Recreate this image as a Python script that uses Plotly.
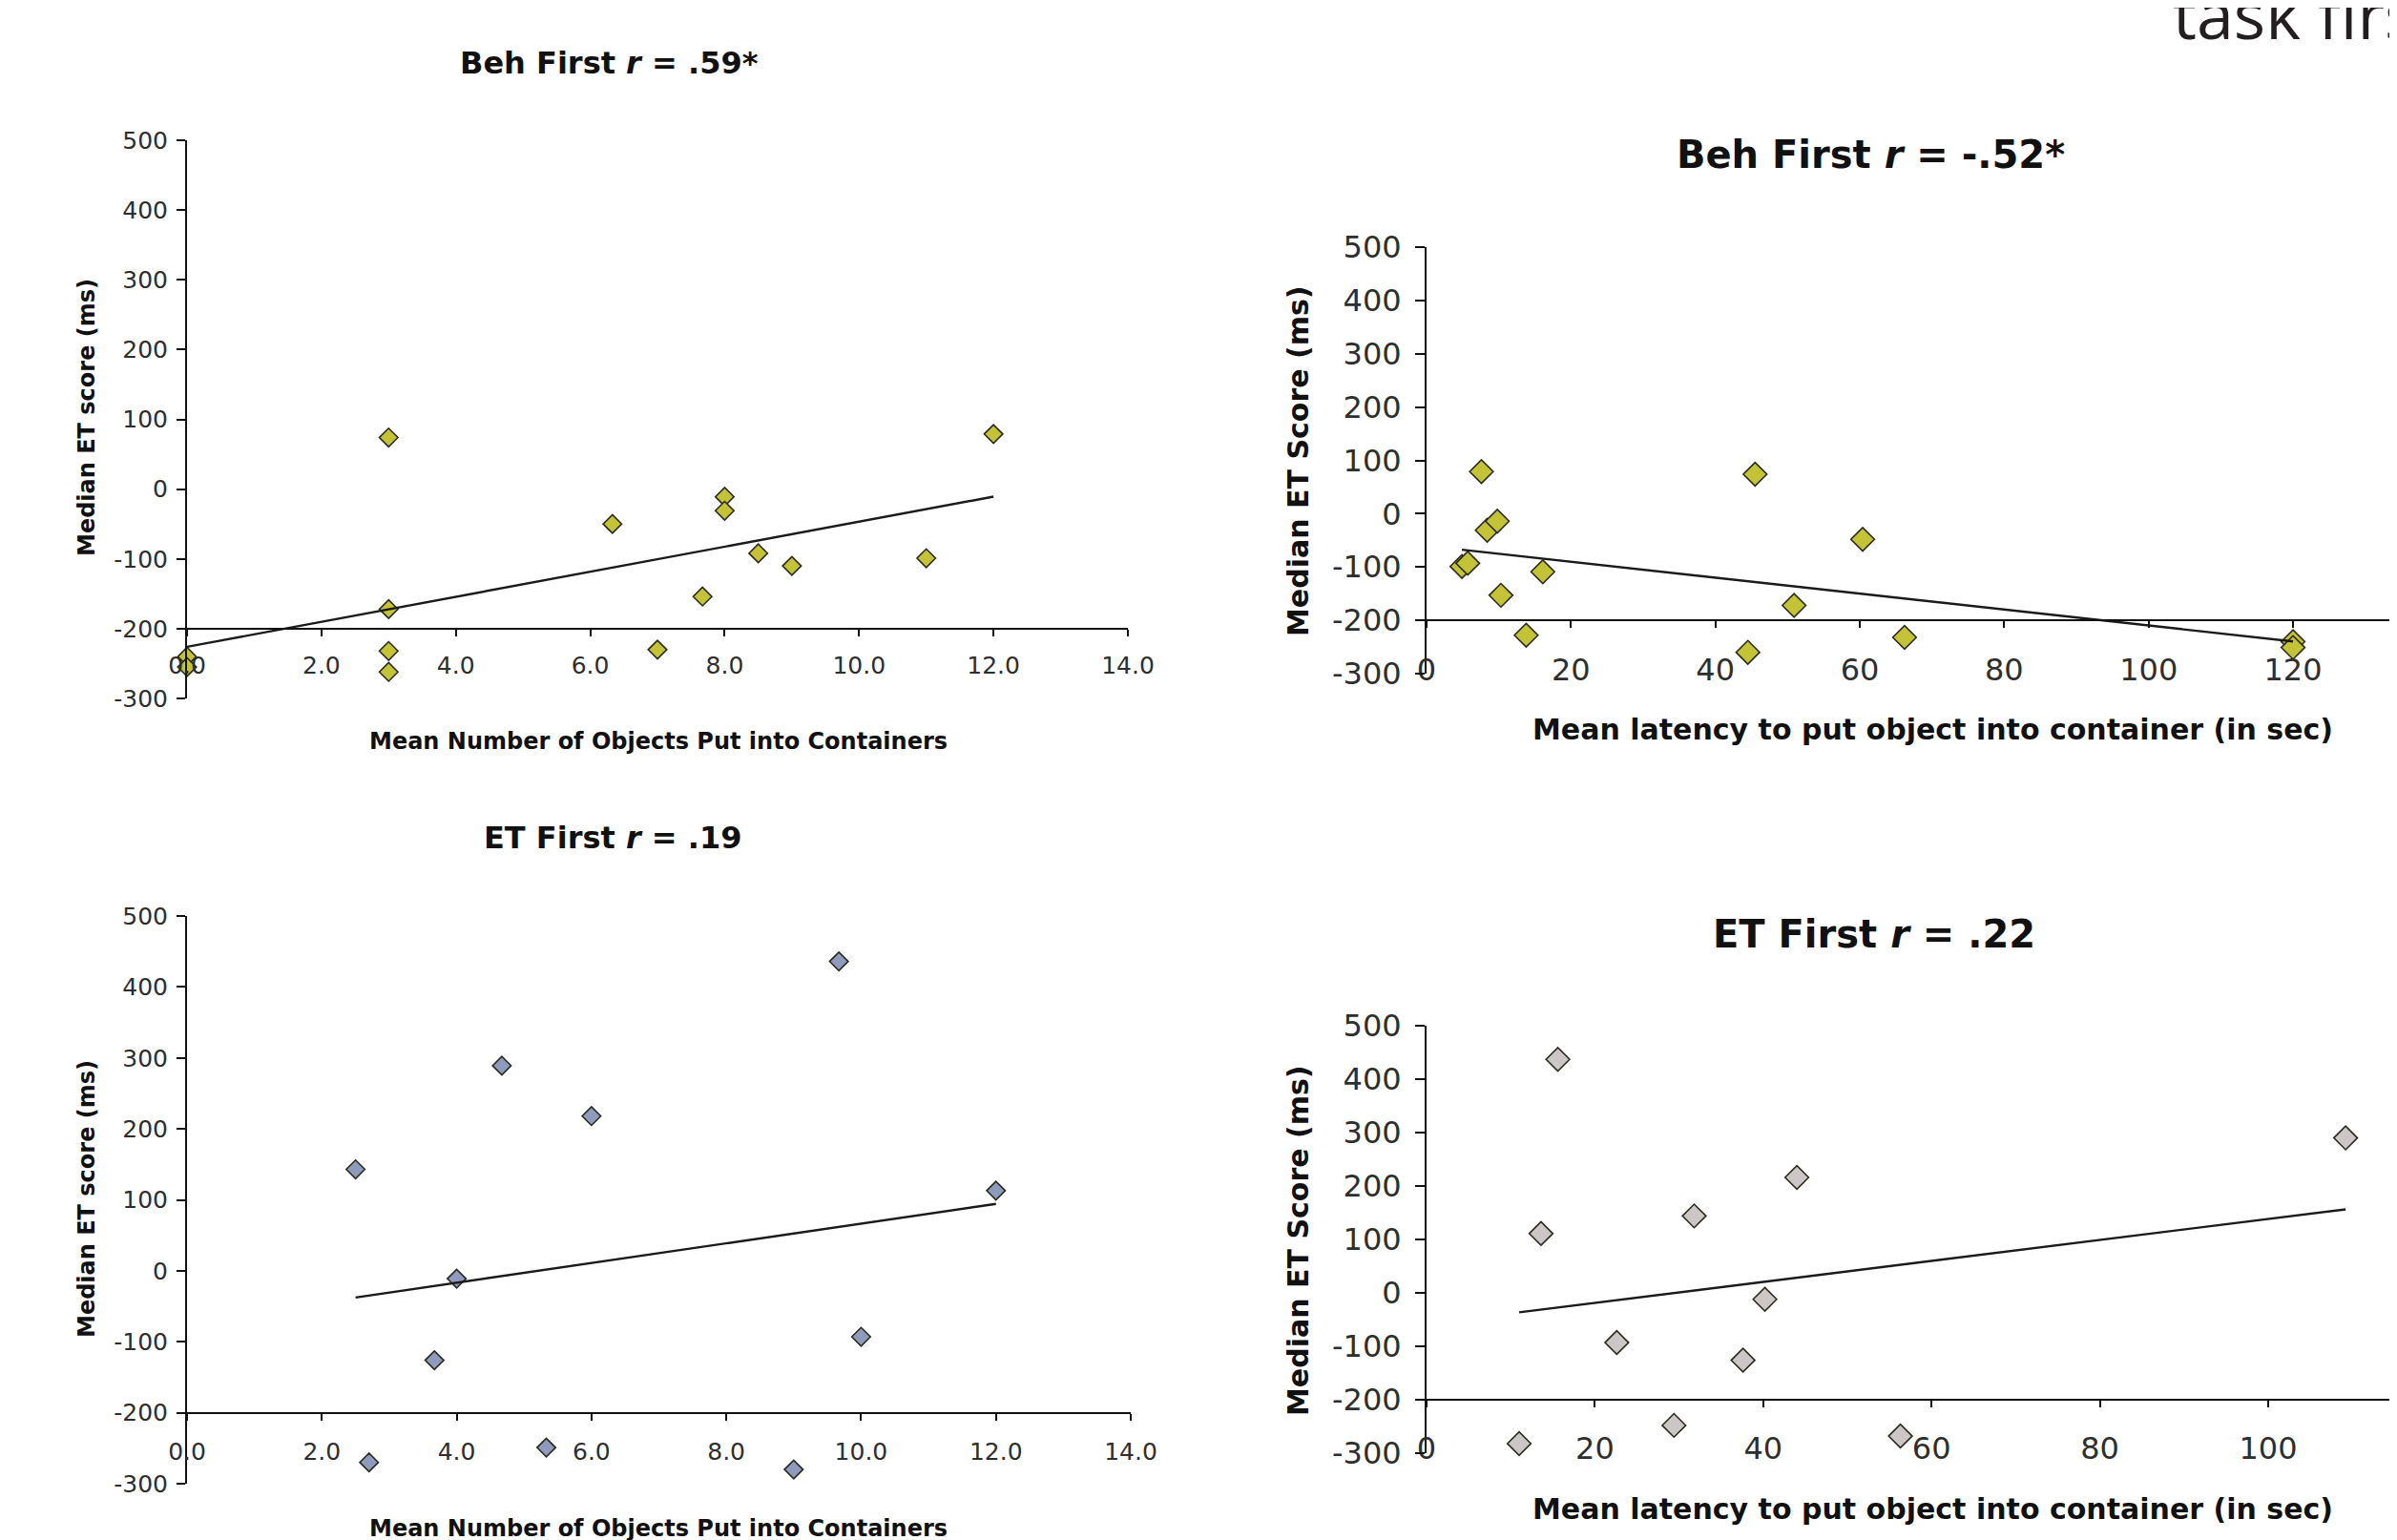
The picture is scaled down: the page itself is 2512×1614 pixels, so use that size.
import numpy as np
import plotly.graph_objects as go

# The page body adds an 8 px margin, so the figure is 8 px smaller than the window
# and all geometry below is given in window pixels and shifted by OFF.
OFF = 8
W, H = 2512 - OFF, 1614 - OFF

# ---------------- data ----------------
beh_objects_x = [0.0, 0.0, 3.0, 3.0, 3.0, 3.0, 6.33, 7.0, 7.67, 8.0, 8.0, 8.5, 9.0, 11.0, 12.0]
beh_objects_y = [-240, -255, 74, -172, -232, -262, -50, -230, -154, -11, -31, -92, -110, -99, 79]

beh_latency_x = [4.9, 5.7, 7.6, 8.4, 9.8, 10.3, 13.8, 16.1, 44.5, 45.5, 50.9, 60.4, 66.2, 120.0, 120.0]
beh_latency_y = [-99, -93, 79, -31, -14, -153, -228, -109, -260, 74, -172, -48, -232, -240, -251]

et_objects_x = [2.5, 2.7, 3.67, 4.0, 4.67, 5.33, 6.0, 9.0, 9.67, 10.0, 12.0]
et_objects_y = [143, -270, -126, -11, 289, -249, 218, -280, 436, -93, 113]

et_latency_x = [11.0, 13.6, 15.6, 22.6, 29.4, 31.8, 37.6, 40.2, 44.0, 56.3, 109.2]
et_latency_y = [-282, 111, 437, -93, -248, 144, -126, -12, 216, -268, 290]

y_ticks = [-300, -200, -100, 0, 100, 200, 300, 400, 500]
y_tick_text = ["-300", "-200", "-100", "0", "100", "200", "300", "400", "500"]
obj_ticks = [0, 2, 4, 6, 8, 10, 12, 14]
obj_tick_text = ["0.0", "2.0", "4.0", "6.0", "8.0", "10.0", "12.0", "14.0"]
lat_ticks = [0, 20, 40, 60, 80, 100, 120, 140]
lat_tick_text = ["0", "20", "40", "60", "80", "100", "120", "140"]

titles = ["Beh First <i>r</i> = .59*", "Beh First <i>r</i> = -.52*",
          "ET First <i>r</i> = .19", "ET First <i>r</i> = .22"]
x_titles = ["Mean Number of Objects Put into Containers",
            "Mean latency to put object into container (in sec)",
            "Mean Number of Objects Put into Containers",
            "Mean latency to put object into container (in sec)"]
y_titles = ["Median ET score (ms)", "Median ET Score (ms)",
            "Median ET score (ms)", "Median ET Score (ms)"]


def sx(p):
    return (p - OFF) / W


def sy(p):
    return 1 - (p - OFF) / H


# ---------------- layout geometry (window pixels) ----------------
FONT = "DejaVu Sans, Verdana, sans-serif"
panels = [
    dict(x=beh_objects_x, y=beh_objects_y, x0=196, x1=1182, xr=[0, 14], ytop=147, ybot=732,
         ticks=obj_ticks, ticktext=obj_tick_text, fill="#c4c236", msize=15, tfs=25, titfs=32, axfs=24,
         title_xy=(638, 66), xt_xy=(690, 777), yt_xy=(91, 438), xstand=9, ystand=4, tlen=9),
    dict(x=beh_latency_x, y=beh_latency_y, x0=1495, x1=2512, xr=[0, 1017 / 7.567], ytop=259, ybot=706,
         ticks=lat_ticks, ticktext=lat_tick_text, fill="#c4c236", msize=19, tfs=32, titfs=40, axfs=30,
         title_xy=(1960, 162), xt_xy=(2025, 764), yt_xy=(1360, 483), xstand=16, ystand=8, tlen=10),
    dict(x=et_objects_x, y=et_objects_y, x0=196, x1=1185, xr=[0, 14], ytop=960, ybot=1555,
         ticks=obj_ticks, ticktext=obj_tick_text, fill="#8e9bbd", msize=15, tfs=25, titfs=32, axfs=24,
         title_xy=(642, 878), xt_xy=(690, 1602), yt_xy=(91, 1257), xstand=11, ystand=4, tlen=9),
    dict(x=et_latency_x, y=et_latency_y, x0=1495, x1=2512, xr=[0, 1017 / 8.82], ytop=1075, ybot=1523,
         ticks=lat_ticks, ticktext=lat_tick_text, fill="#cdc6c6", msize=19, tfs=32, titfs=40, axfs=30,
         title_xy=(1964, 979), xt_xy=(2025, 1581), yt_xy=(1360, 1300), xstand=16, ystand=8, tlen=10),
]

fig = go.Figure()
annotations = []
layout_axes = {}

for i, p in enumerate(panels, start=1):
    xa = "x" if i == 1 else f"x{i}"
    ya = "y" if i == 1 else f"y{i}"
    xkey = "xaxis" if i == 1 else f"xaxis{i}"
    ykey = "yaxis" if i == 1 else f"yaxis{i}"

    # scatter points
    fig.add_trace(go.Scatter(
        x=p["x"], y=p["y"], mode="markers", xaxis=xa, yaxis=ya, cliponaxis=False,
        marker=dict(symbol="diamond", size=p["msize"], color=p["fill"],
                    line=dict(color="#2b2b1e", width=1.6)),
        showlegend=False, hoverinfo="skip"))

    # linear trend line computed from the data
    xs = np.array(p["x"], dtype=float)
    ys = np.array(p["y"], dtype=float)
    slope, intercept = np.polyfit(xs, ys, 1)
    lx = np.array([xs.min(), xs.max()])
    fig.add_trace(go.Scatter(
        x=lx, y=slope * lx + intercept, mode="lines", xaxis=xa, yaxis=ya, cliponaxis=False,
        line=dict(color="#1a1a1a", width=2.4), showlegend=False, hoverinfo="skip"))

    y0 = sy(p["ybot"])
    y1 = sy(p["ytop"])
    yr = [-300, 500]
    cross = -200
    axis_pos = y0 + (cross - yr[0]) / (yr[1] - yr[0]) * (y1 - y0)

    layout_axes[xkey] = dict(
        domain=[sx(p["x0"]), min(sx(p["x1"]), 1.0)], range=p["xr"], anchor="free", position=axis_pos,
        tickmode="array", tickvals=p["ticks"], ticktext=p["ticktext"], automargin=False,
        showline=True, linecolor="#111", linewidth=2, ticks="outside", ticklen=7, tickwidth=2,
        tickcolor="#111", showgrid=False, zeroline=False,
        tickfont=dict(family=FONT, size=p["tfs"], color="#2e2e2e"),
        ticklabelstandoff=p["xstand"], fixedrange=True)
    layout_axes[ykey] = dict(
        domain=[y0, y1], range=yr, anchor=xa, automargin=False,
        tickmode="array", tickvals=y_ticks, ticktext=y_tick_text,
        showline=True, linecolor="#111", linewidth=2, ticks="outside", ticklen=p["tlen"], tickwidth=2,
        tickcolor="#111", showgrid=False, zeroline=False,
        tickfont=dict(family=FONT, size=p["tfs"], color="#2e2e2e"),
        ticklabelstandoff=p["ystand"], fixedrange=True)

    tx, ty = p["title_xy"]
    annotations.append(dict(text="<b>" + titles[i - 1] + "</b>", x=sx(tx), y=sy(ty),
                            xref="paper", yref="paper", xanchor="center", yanchor="middle",
                            showarrow=False, font=dict(family=FONT, size=p["titfs"], color="#111")))
    xx, xy = p["xt_xy"]
    annotations.append(dict(text="<b>" + x_titles[i - 1] + "</b>", x=sx(xx), y=sy(xy),
                            xref="paper", yref="paper", xanchor="center", yanchor="middle",
                            showarrow=False, font=dict(family=FONT, size=p["axfs"], color="#111")))
    yx, yy = p["yt_xy"]
    annotations.append(dict(text="<b>" + y_titles[i - 1] + "</b>", x=sx(yx), y=sy(yy),
                            xref="paper", yref="paper", xanchor="center", yanchor="middle",
                            textangle=-90, showarrow=False,
                            font=dict(family=FONT, size=p["axfs"], color="#111")))

# slide heading, cut off at the top-right corner as in the reference
annotations.append(dict(text="task first", x=sx(2275), y=sy(14), xref="paper", yref="paper",
                        xanchor="left", yanchor="middle", showarrow=False,
                        font=dict(family="Open Sans, Noto Sans, sans-serif", size=70, color="#231f20")))

fig.update_layout(
    width=W, height=H, margin=dict(l=0, r=0, t=0, b=0, autoexpand=False),
    paper_bgcolor="#ffffff", plot_bgcolor="rgba(0,0,0,0)",
    annotations=annotations, showlegend=False, **layout_axes)

fig.write_html("out.html")
